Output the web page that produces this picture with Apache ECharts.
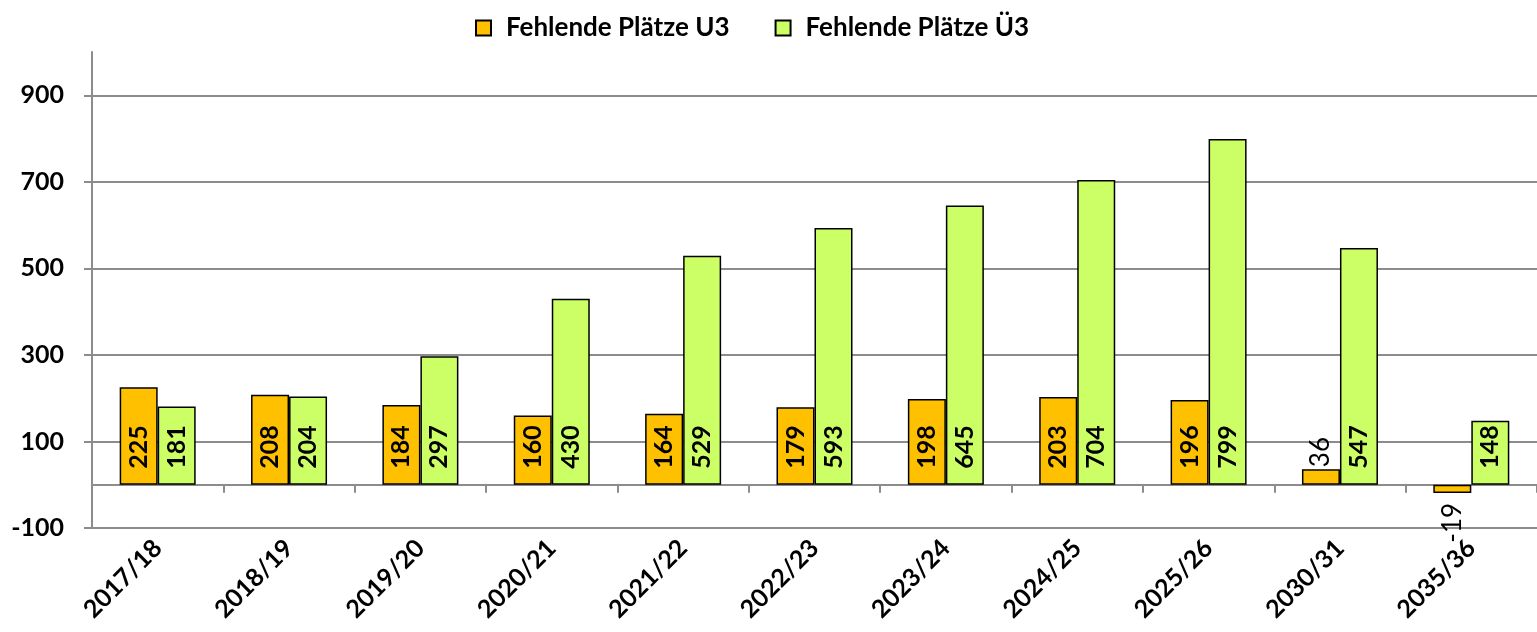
<!DOCTYPE html>
<html>
<head>
<meta charset="utf-8">
<script src="https://cdn.jsdelivr.net/npm/echarts@6/dist/echarts.min.js"></script>
<style>
  html, body { margin: 0; padding: 0; background: #fff; }
  #chart { width: 1537px; height: 632px; }
</style>
</head>
<body>
<div id="chart"></div>
<script>
const years = ['2017/18', '2018/19', '2019/20', '2020/21', '2021/22', '2022/23',
    '2023/24', '2024/25', '2025/26', '2030/31', '2035/36'];
const fehlendU3 = [225, 208, 184, 160, 164, 179, 198, 203, 196, 36, -19];
const fehlendUe3 = [181, 204, 297, 430, 529, 593, 645, 704, 799, 547, 148];
const yTicks = [-100, 100, 300, 500, 700, 900];

const fontFamily = 'Lato, "Open Sans", sans-serif';
const gridGrey = '#8c8c8c';

// Werte ausserhalb des Balkens (zu klein fuer innen)
function barLabel(v) {
    const base = {
        show: true, rotate: 90, align: 'left', verticalAlign: 'middle',
        position: 'insideBottom', distance: 16,
        color: '#000', fontWeight: 'bold', fontSize: 25, fontFamily: fontFamily
    };
    if (v < 0) {
        return Object.assign({}, base, { position: 'bottom', align: 'right', distance: 10, fontWeight: 'normal', fontSize: 26 });
    }
    if (v < 60) {
        return Object.assign({}, base, { position: 'top', distance: 2, fontWeight: 'normal', fontSize: 26 });
    }
    return base;
}

const chart = echarts.init(document.getElementById('chart'));
const yMin = yTicks[0];
const step = yTicks[1] - yTicks[0];

chart.setOption({
    backgroundColor: '#fff',
    animation: false,
    textStyle: { fontFamily: fontFamily },
    legend: {
        left: 470,
        top: 10,
        itemWidth: 15,
        itemHeight: 15,
        itemGap: 45,
        icon: 'rect',
        textStyle: { color: '#000', fontSize: 26, fontWeight: 'bold', fontFamily: fontFamily, padding: [0, 0, 0, 10] }
    },
    grid: { left: 92, right: 0, top: 52, bottom: 104, outerBoundsMode: 'none' },
    xAxis: [{
        type: 'category',
        data: years,
        position: 'bottom',
        axisLine: { onZero: true, onZeroAxisIndex: 0, lineStyle: { color: gridGrey, width: 2 } },
        axisTick: { show: true, length: 8, lineStyle: { color: gridGrey, width: 2 } },
        axisLabel: { show: false }
    }, {
        type: 'category',
        data: years,
        position: 'bottom',
        axisLine: { show: false, onZero: false },
        axisTick: { show: false },
        axisLabel: {
            rotate: 45, margin: 16, interval: 0,
            color: '#000', fontSize: 25, fontWeight: 'bold', fontFamily: fontFamily
        }
    }],
    yAxis: [{
        type: 'value',
        position: 'left',
        min: -100,
        max: 1000,
        show: false
    }, {
        // sichtbare Achse: 0..1100 entspricht -100..1000
        type: 'value',
        position: 'left',
        min: 0,
        max: 1100,
        interval: step,
        axisLine: { show: true, lineStyle: { color: gridGrey, width: 2 } },
        axisTick: { show: true, length: 8, lineStyle: { color: gridGrey, width: 2 } },
        splitLine: { show: true, showMaxLine: false, lineStyle: { color: gridGrey, width: 2 } },
        axisLabel: {
            showMaxLabel: false,
            margin: 28,
            color: '#000', fontSize: 25, fontWeight: 'bold', fontFamily: fontFamily,
            formatter: v => (yTicks.indexOf(v + yMin) >= 0 ? String(v + yMin) : '')
        }
    }],
    series: [{
        name: 'Fehlende Plätze U3',
        type: 'bar',
        xAxisIndex: 0,
        yAxisIndex: 0,
        barWidth: 38,
        barGap: '0%',
        itemStyle: { color: '#ffc000', borderColor: '#000', borderWidth: 1.5 },
        data: fehlendU3.map(v => ({ value: v, label: barLabel(v) }))
    }, {
        name: 'Fehlende Plätze Ü3',
        type: 'bar',
        xAxisIndex: 0,
        yAxisIndex: 0,
        barWidth: 38,
        barGap: '0%',
        itemStyle: { color: '#ccff66', borderColor: '#000', borderWidth: 1.5 },
        data: fehlendUe3.map(v => ({ value: v, label: barLabel(v) }))
    }]
});
</script>
</body>
</html>
